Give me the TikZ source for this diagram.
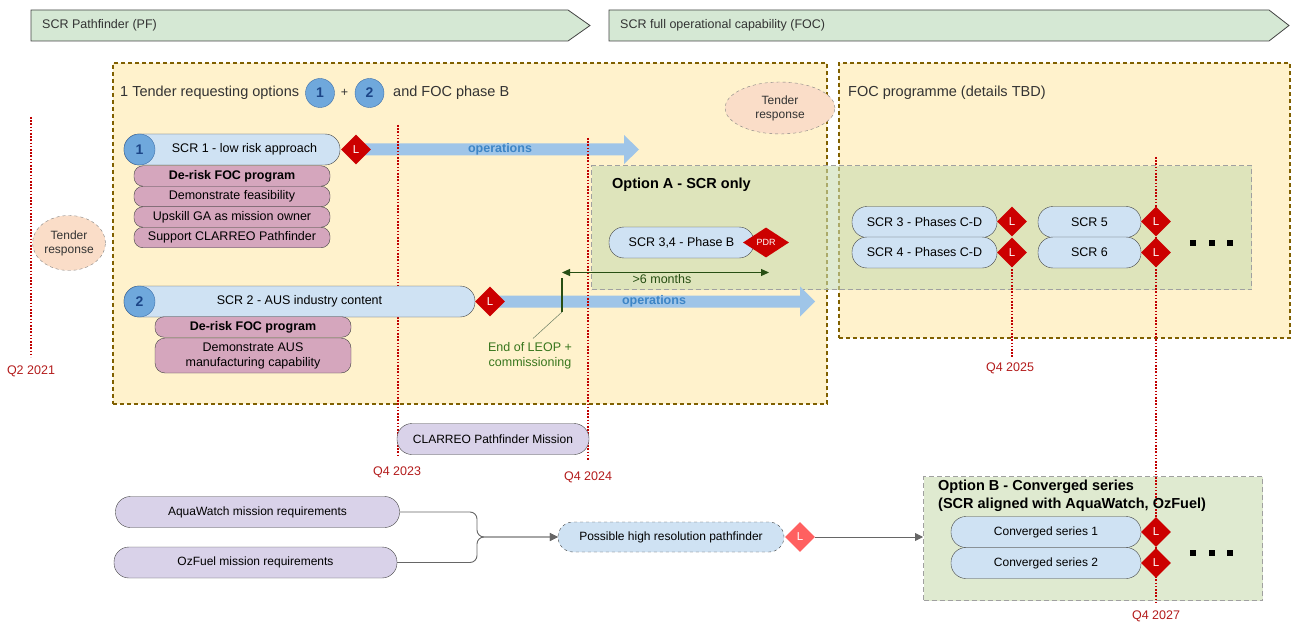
\documentclass[tikz,border=0pt]{standalone}
\usepackage{fontspec}
\setmainfont{Liberation Sans}
\usetikzlibrary{shapes.geometric,arrows.meta,calc}
\pgfdeclarelayer{bg}\pgfdeclarelayer{mid}\pgfsetlayers{bg,mid,main}
\definecolor{hdrfill}{HTML}{D5E8D4}
\definecolor{yelc}{HTML}{FFF2CC}
\definecolor{yelb}{HTML}{806000}
\definecolor{grnc}{HTML}{C9DCB0}
\definecolor{grnb}{HTML}{A0A0A0}
\definecolor{pillc}{HTML}{CFE2F3}
\definecolor{circc}{HTML}{6FA8DC}
\definecolor{circb}{HTML}{3D6FA8}
\definecolor{circt}{HTML}{1C4587}
\definecolor{pinkc}{HTML}{D5A6BD}
\definecolor{lred}{HTML}{CC0000}
\definecolor{lpink}{HTML}{FF6060}
\definecolor{opsc}{HTML}{9FC5E8}
\definecolor{opst}{HTML}{3D85C6}
\definecolor{lavc}{HTML}{D9D2E9}
\definecolor{peach}{HTML}{FADDC8}
\definecolor{dgreen}{HTML}{274E13}
\definecolor{tgreen}{HTML}{38761D}
\definecolor{tlc}{HTML}{B31B1B}
\definecolor{tll}{HTML}{C00000}
\definecolor{edge}{HTML}{444444}
\definecolor{txtg}{HTML}{333333}
\newcommand\fA{\fontsize{12.5pt}{15pt}\selectfont}
\newcommand\fC{\fontsize{12pt}{14pt}\selectfont}
\newcommand\fB{\fontsize{14.5pt}{18pt}\selectfont}
\tikzset{
  hdr/.style={draw=edge, fill=hdrfill, line width=0.8pt},
  ybox/.style={draw=yelb, fill=yelc, line width=2pt, dash pattern=on 4pt off 3pt, inner sep=0pt},
  gbox/.style={draw=grnb, fill=grnc, fill opacity=0.6, draw opacity=1, line width=1.3pt, dash pattern=on 5pt off 3pt, inner sep=0pt},
  pillb/.style={draw=edge, fill=pillc, rounded corners=15pt, minimum height=31pt, inner sep=2pt, font=\fA},
  lavb/.style={draw=edge, fill=lavc, rounded corners=15pt, minimum height=31pt, inner sep=2pt, font=\fC},
  pinkb/.style={draw=edge, fill=pinkc, rounded corners=9pt, minimum width=196pt, minimum height=20.5pt, inner sep=0pt, font=\fA},
  numc/.style={circle, draw=circb, fill=circc, minimum size=29pt, inner sep=0pt, font=\fontsize{14pt}{14pt}\selectfont\bfseries, text=circt},
  ldia/.style={diamond, fill=lred, minimum width=30pt, minimum height=30pt, inner sep=0pt, text=white, font=\fontsize{11.5pt}{11.5pt}\selectfont},
  ldiap/.style={ldia, fill=lpink},
  pdrdia/.style={diamond, fill=lred, minimum width=46pt, minimum height=30pt, inner sep=0pt, text=white, font=\fontsize{9pt}{9pt}\selectfont},
  tresp/.style={ellipse, draw=gray, dashed, fill=peach, align=center, inner sep=0pt, font=\fC, text=txtg},
  tline/.style={draw=tll, line width=1.8pt, dash pattern=on 1.6pt off 1.6pt},
  tlab/.style={text=tlc, font=\fA, inner sep=1pt},
  opsfill/.style={fill=opsc},
  opslab/.style={text=opst, font=\fA\bfseries, inner sep=0pt},
  conn/.style={draw=gray!80!black, line width=0.9pt, -{Triangle[length=8pt,width=8pt]}},
  sqdot/.style={fill=black, minimum size=6.5pt, inner sep=0pt},
}
\begin{document}
\begin{tikzpicture}[x=1pt,y=-1pt]
\useasboundingbox (0,0) rectangle (1291,623);
% ---------- headers
\draw[hdr] (31,10) -- (568,10) -- (590,25.5) -- (568,41) -- (31,41) -- cycle;
\node[anchor=west, font=\fA, text=txtg, inner sep=0pt] (pf) at (42,25.5) {SCR Pathfinder (PF)};
\draw[hdr] (609,10) -- (1269,10) -- (1289,25.5) -- (1269,41) -- (609,41) -- cycle;
\node[anchor=west, font=\fA, text=txtg, inner sep=0pt] (foch) at (620,25.5) {SCR full operational capability (FOC)};
% ---------- containers
\begin{pgfonlayer}{bg}
\node[ybox, anchor=north west, minimum width=714pt, minimum height=341pt] (tbox) at (112,62) {};
\node[ybox, anchor=north west, minimum width=451pt, minimum height=275pt] (focbox) at (838,62) {};
\node[gbox, anchor=north west, minimum width=660pt, minimum height=124pt] (optA) at (591,165) {};
\node[gbox, anchor=north west, minimum width=339pt, minimum height=124pt] (optB) at (923,476) {};
\end{pgfonlayer}
% ---------- titles
\node[anchor=west, font=\fB, text=txtg, inner sep=0pt] (t1a) at (120,93) {1 Tender requesting options};
\node[numc] (c1) at (320,93) {1};
\node[font=\fA, text=txtg, inner sep=0pt] (plus) at (344.5,93) {+};
\node[numc] (c2) at (369.5,93) {2};
\node[anchor=west, font=\fB, text=txtg, inner sep=0pt] (t1b) at (393,93) {and FOC phase B};
\node[anchor=west, font=\fB, text=txtg, inner sep=0pt] (foct) at (848,93) {FOC programme (details TBD)};
\node[tresp, minimum width=110pt, minimum height=52pt] (tr1) at (780,108) {Tender\\response};
\node[tresp, minimum width=73pt, minimum height=55pt] (tr2) at (69,243) {Tender\\response};
% ---------- SCR 1
\node[pillb, minimum width=216pt] (scr1) at (232,149.5) {};
\node[font=\fA, inner sep=0pt] (scr1t) at (244.5,149.5) {SCR 1 - low risk approach};
\node[numc, minimum size=31pt] (n1) at (139.5,149.5) {1};
\node[ldia] (L1) at (356,149.5) {L};
\node[pinkb] (p11) at (232,176) {\bfseries De-risk FOC program};
\node[pinkb] (p12) at (232,196.5) {Demonstrate feasibility};
\node[pinkb] (p13) at (232,217) {Upskill GA as mission owner};
\node[pinkb] (p14) at (232,237.5) {Support CLARREO Pathfinder};
% ---------- SCR 2
\node[pillb, minimum width=351pt] (scr2) at (299.5,301.5) {SCR 2 - AUS industry content};
\node[numc, minimum size=31pt] (n2) at (139.5,301.5) {2};
\node[ldia] (L2) at (490,301.5) {L};
\node[pinkb] (p21) at (253,327) {\bfseries De-risk FOC program};
\node[pinkb, minimum height=35pt, align=center, rounded corners=10pt] (p22) at (253,355.5) {Demonstrate AUS\\manufacturing capability};
% ---------- operations arrows
\coordinate (op1) at (639,149.5);
\coordinate (op2) at (815,301.5);
\begin{pgfonlayer}{mid}
\fill[opsfill] ($(L1.center)+(0,-6)$) -- ($(op1)+(-15,-6)$) -- ($(op1)+(-15,-14.5)$) -- (op1) -- ($(op1)+(-15,14.5)$) -- ($(op1)+(-15,6)$) -- ($(L1.center)+(0,6)$) -- cycle;
\fill[opsfill] ($(L2.center)+(0,-6)$) -- ($(op2)+(-15,-6)$) -- ($(op2)+(-15,-15)$) -- (op2) -- ($(op2)+(-15,15)$) -- ($(op2)+(-15,6)$) -- ($(L2.center)+(0,6)$) -- cycle;
% timeline lines
\draw[tline] (31,117) -- (31,357);
\draw[tline] (398,125) -- (398,456);
\draw[tline] (588,138) -- (588,460);
\draw[tline] (1012,253) -- (1012,357);
\draw[tline] (1156,157) -- (1156,603);
\end{pgfonlayer}
\node[opslab] (ol1) at (500,149.5) {operations};
\node[opslab] (ol2) at (654,301.5) {operations};
% timeline labels
\node[tlab] (q21) at (31,371) {Q2 2021};
\node[tlab] (q23) at (397,472) {Q4 2023};
\node[tlab] (q24) at (588,477) {Q4 2024};
\node[tlab] (q25) at (1010,368) {Q4 2025};
\node[tlab] (q27) at (1156,616) {Q4 2027};
% ---------- Option A
\node[anchor=west, font=\fB\bfseries, inner sep=0pt] (optAt) at (612,185) {Option A - SCR only};
\node[pillb, minimum width=145pt] (scr34) at (681.5,242.5) {SCR 3,4 - Phase B};
\node[pdrdia] (pdr) at (766,242.5) {PDR};
\coordinate (m6a) at (562,272.5);
\coordinate (m6b) at (769,272.5);
\draw[dgreen, line width=1.1pt, {Triangle[length=8pt,width=7pt]}-{Triangle[length=8pt,width=7pt]}] (m6a) -- (m6b);
\node[anchor=north, text=dgreen, font=\fA, inner sep=0.5pt] (m6l) at (662,274) {>6 months};
\coordinate (tickt) at (562,278);
\coordinate (tickb) at (562,312);
\draw[dgreen, line width=2pt] (tickt) -- (tickb);
\node[text=tgreen, font=\fA, align=center, inner sep=0pt] (leop) at (530,356) {End of LEOP +\\commissioning};
\draw[gray!70!tgreen, line width=0.5pt] (tickb) -- ($(leop.north)+(3,-4)$);
\node[pillb, minimum width=145pt] (scr3) at (924.5,222) {SCR 3 - Phases C-D};
\node[pillb, minimum width=145pt] (scr4) at (924.5,252.5) {SCR 4 - Phases C-D};
\node[ldia] (L3) at (1012,221.5) {L};
\node[ldia] (L4) at (1012,252.5) {L};
\node[pillb, minimum width=103pt] (scr5) at (1089.5,222) {SCR 5};
\node[pillb, minimum width=103pt] (scr6) at (1089.5,252.5) {SCR 6};
\node[ldia] (L5) at (1156,221.5) {L};
\node[ldia] (L6) at (1156,252.5) {L};
\node[sqdot] (da1) at (1193,243) {};
\node[sqdot] (da2) at (1212,243) {};
\node[sqdot] (da3) at (1230,243) {};
% ---------- bottom
\node[lavb, minimum width=192pt] (clar) at (493,439) {CLARREO Pathfinder Mission};
\node[lavb, minimum width=284pt] (aqua) at (257.5,512) {AquaWatch mission requirements};
\node[lavb, minimum width=283pt] (oz) at (255.5,562.5) {OzFuel mission requirements};
\node[pillb, dashed, minimum width=226pt, minimum height=30pt, font=\fC] (pfd) at (671,537) {Possible high resolution pathfinder};
\node[ldiap] (Lp) at (800,537) {L};
\draw[conn, rounded corners=7pt] (aqua.east) -- (477,512) -- (477,537) -- (pfd.west);
\draw[conn, rounded corners=7pt] (oz.east) -- (477,562.5) -- (477,537) -- (pfd.west);
\draw[conn] (Lp.east) -- (Lp.east -| optB.west);
% ---------- Option B
\node[anchor=north west, font=\fB\bfseries, align=left, inner sep=0pt] (optBt) at (938,480) {Option B - Converged series\\(SCR aligned with AquaWatch, OzFuel)};
\node[pillb, minimum width=190pt, font=\fC] (cv1) at (1046,532) {Converged series 1};
\node[pillb, minimum width=190pt, font=\fC] (cv2) at (1046,563) {Converged series 2};
\node[ldia] (Lc1) at (1156,532) {L};
\node[ldia] (Lc2) at (1156,563) {L};
\node[sqdot] (db1) at (1193,553) {};
\node[sqdot] (db2) at (1212,553) {};
\node[sqdot] (db3) at (1230,553) {};
\end{tikzpicture}
\end{document}
